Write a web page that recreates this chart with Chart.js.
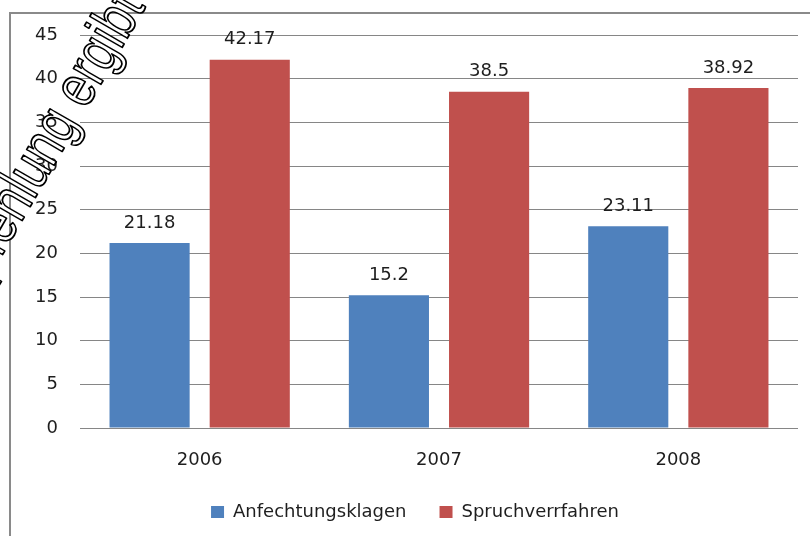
<!DOCTYPE html>
<html>
<head>
<meta charset="utf-8">
<script src="https://cdn.jsdelivr.net/npm/chart.js@4.4.1/dist/chart.umd.min.js"></script>
<style>
  html, body { margin: 0; padding: 0; background: #fff; }
</style>
</head>
<body>
<canvas id="grafico" width="810" height="536"></canvas>
<script>
const jahre = ["2006", "2007", "2008"];
const anfechtungsklagen = [21.18, 15.2, 23.11];
const spruchverfahren = [42.17, 38.5, 38.92];
const yMax = 45;
const yStep = 5;

const ctx = document.getElementById("grafico").getContext("2d");

Chart.defaults.font.family = "'DejaVu Sans', sans-serif";
Chart.defaults.font.size = 18;
Chart.defaults.color = "#1e1e1e";

// rahmen um das diagramm (nur oben und links sichtbar)
const rahmen = {
  id: "rahmen",
  beforeDraw(chart) {
    const c = chart.ctx;
    c.save();
    c.fillStyle = "#fff";
    c.fillRect(0, 0, chart.width, chart.height);
    c.strokeStyle = "#8a8a8a";
    c.lineWidth = 2;
    c.beginPath();
    c.moveTo(10, chart.height);
    c.lineTo(10, 13);
    c.lineTo(chart.width, 13);
    c.stroke();
    c.restore();
  }
};

// werte über den balken
const werte = {
  id: "werte",
  afterDatasetsDraw(chart) {
    const c = chart.ctx;
    c.save();
    c.font = "18px 'DejaVu Sans', sans-serif";
    c.fillStyle = "#1e1e1e";
    c.textAlign = "center";
    c.textBaseline = "middle";
    chart.data.datasets.forEach((ds, i) => {
      chart.getDatasetMeta(i).data.forEach((bar, j) => {
        c.fillText(String(ds.data[j]), bar.x, bar.y - 20);
      });
    });
    c.restore();
  }
};

// schräger schriftzug oben links
const schriftzug = {
  id: "schriftzug",
  afterDraw(chart) {
    const c = chart.ctx;
    const size = 60;
    c.save();
    c.font = size + "px 'Liberation Sans', Arial, sans-serif";
    const vor = c.measureText("Empfehlung ").width + c.measureText("e").width / 2;
    c.translate(79, 91);
    c.rotate(-60 * Math.PI / 180);
    c.scale(0.8, 1);
    c.lineJoin = "round";
    c.lineWidth = 1.8;
    c.fillStyle = "#fff";
    c.strokeStyle = "#000";
    c.textBaseline = "alphabetic";
    c.fillText("Empfehlung ergibt", -vor * 1, size * 0.26);
    c.strokeText("Empfehlung ergibt", -vor * 1, size * 0.26);
    c.restore();
  }
};

new Chart(ctx, {
  type: "bar",
  data: {
    labels: jahre,
    datasets: [
      {
        label: "Anfechtungsklagen",
        data: anfechtungsklagen,
        backgroundColor: "#4F81BD",
        categoryPercentage: 0.837,
        barPercentage: 0.8
      },
      {
        label: "Spruchverrfahren",
        data: spruchverfahren,
        backgroundColor: "#C0504D",
        categoryPercentage: 0.837,
        barPercentage: 0.8
      }
    ]
  },
  options: {
    responsive: false,
    animation: false,
    events: [],
    layout: { padding: { top: 35, left: 32, right: 12, bottom: 5 } },
    plugins: {
      tooltip: { enabled: false },
      legend: {
        position: "bottom",
        labels: { boxWidth: 13, boxHeight: 12, padding: 33, font: { size: 18 } }
      }
    },
    scales: {
      x: {
        grid: { display: false },
        border: { display: false },
        ticks: { padding: 14 },
        afterFit: (s) => { s.height = 42; }
      },
      y: {
        min: 0,
        max: yMax,
        ticks: { stepSize: yStep, padding: 22 },
        grid: { color: "#868686", lineWidth: 1, drawTicks: false },
        border: { display: false },
        afterFit: (s) => { s.width = 48; }
      }
    }
  },
  plugins: [rahmen, werte, schriftzug]
});
</script>
</body>
</html>
